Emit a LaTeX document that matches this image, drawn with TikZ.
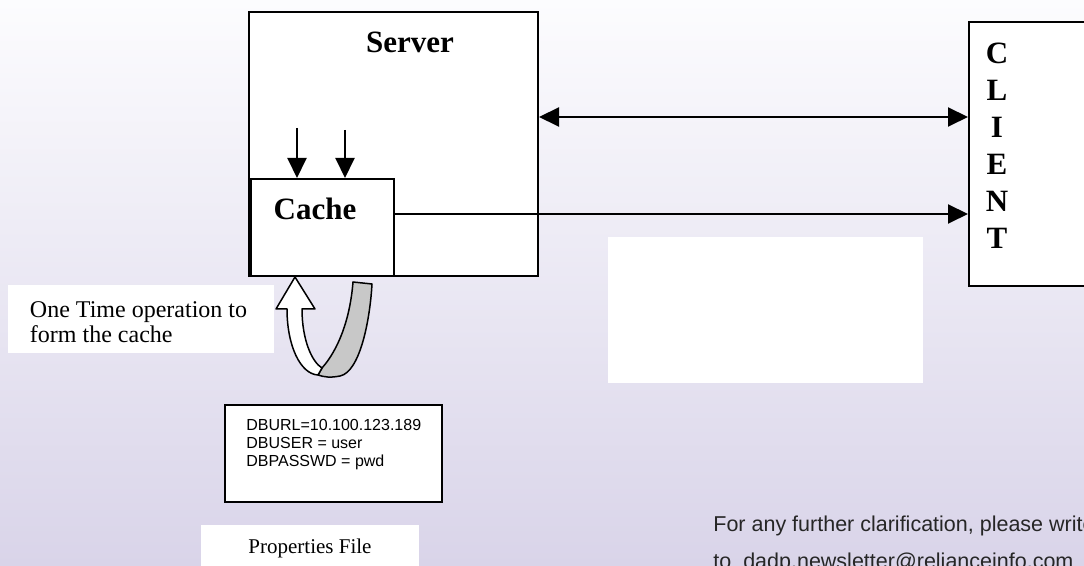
\documentclass[tikz,border=0pt]{standalone}
\usepackage{fontspec}
\setmainfont{Liberation Serif}
\setsansfont{Liberation Sans}
\usetikzlibrary{arrows.meta}
\definecolor{bgtop}{RGB}{252,252,254}
\definecolor{bgbot}{RGB}{217,212,233}
\definecolor{backface}{RGB}{200,200,200}

\begin{document}
\begin{tikzpicture}[x=0.5pt,y=-0.5pt,
  box/.style={draw=black,line width=1pt,fill=white,inner sep=0pt},
  plain/.style={fill=white,inner sep=0pt},
  big/.style={inner sep=0pt,font=\fontsize{15.5}{18.5}\selectfont\bfseries},
  tip/.tip={Triangle[length=10pt,width=9.5pt]},
  link/.style={line width=1pt,-tip},
]
  \useasboundingbox (0,0) rectangle (1084,566);
  \clip (0,0) rectangle (1084,566);
  \shade[top color=bgtop,bottom color=bgbot] (0,0) rectangle (1084,566);

  % boxes
  \node[box,minimum width=144.5pt,minimum height=132pt] (server) at (393.5,144) {};
  \node[box,minimum width=71.5pt,minimum height=48.5pt] (cache) at (322.5,227.5) {};
  \node[box,minimum width=70pt,minimum height=132pt] (client) at (1039,154) {};
  \node[plain,minimum width=157.5pt,minimum height=73pt] (blank) at (765.5,310) {};

  \node[big] (servertext) at (410,42) {Server};
  \node[big] (cachetext) at (315,209) {Cache};
  \node[big,align=center] (clienttext) at (997,145.5) {C\\L\\I\\E\\N\\T};

  % feeds into the cache
  \coordinate (in1) at (297,128);
  \coordinate (in2) at (345,130);
  \draw[link] (in1) -- (in1 |- cache.north);
  \draw[link] (in2) -- (in2 |- cache.north);

  \draw[link,tip-tip] ([yshift=13.5pt]server.east) -- ([yshift=13.5pt]server.east -| client.west);
  \draw[link] ([yshift=6.75pt]cache.east) -- ([yshift=6.75pt]cache.east -| client.west);

  % u-turn arrow below the cache
  \draw[line width=0.75pt,fill=backface,line join=round]
    (322,368) .. controls (338,350) and (350,320) .. (353,282) -- (372,284)
    .. controls (370,320) and (360,372) .. (340,376)
    .. controls (330,378) and (324,377) .. (318,375) -- cycle;
  \draw[line width=0.75pt,fill=white,line join=round]
    (276,309) -- (295,277) -- (315,309) -- (302,309)
    .. controls (302,340) and (312,362) .. (322,368) -- (318,375)
    .. controls (300,374) and (287,345) .. (287,309) -- cycle;

  \node[plain,minimum width=133pt,minimum height=34pt] (note) at (141,319) {};
  \node[anchor=west,inner sep=0pt,align=left,font=\fontsize{12}{12.5}\selectfont]
    (notetext) at ([xshift=11pt,yshift=-1.5pt]note.west) {One Time operation to\\form the cache};

  % properties file
  \node[box,minimum width=108.5pt,minimum height=48.5pt] (props) at (333.5,453.5) {};
  \node[anchor=north west,inner sep=0pt,align=left,font=\sffamily\fontsize{8}{9}\selectfont]
    (propstext) at (246,419) {DBURL=10.100.123.189\\DBUSER = user\\DBPASSWD = pwd};
  \node[plain,minimum width=109pt,minimum height=23.5pt,font=\fontsize{10.5}{12}\selectfont]
    (propslabel) at (310,548.5) {Properties File};

  \node[anchor=north west,inner sep=0pt,align=left,text=black!85,
    font=\sffamily\fontsize{10.75}{18.5}\selectfont] (footer) at (713,516)
    {For any further clarification, please write\\to\ \ dadp.newsletter@relianceinfo.com};
\end{tikzpicture}
\end{document}
